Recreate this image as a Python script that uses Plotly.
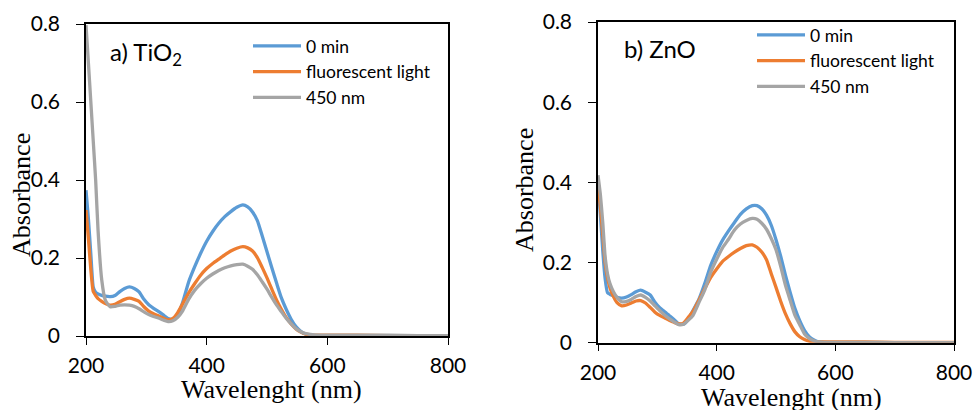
import plotly.graph_objects as go

# ---------------- data ----------------
wavelength = [200, 204, 208, 212, 216, 220, 226, 232, 240, 248, 256, 264, 272, 280, 288,
              296, 304, 312, 320, 328, 336, 344, 352, 360, 370, 380, 390, 400, 410, 420,
              430, 440, 450, 460, 468, 476, 484, 492, 500, 508, 516, 524, 532, 540, 548,
              556, 564, 572, 580, 600, 650, 700, 750, 800]

# a) TiO2
tio2_0min = [0.374, 0.300, 0.210, 0.125, 0.112, 0.108, 0.104, 0.102, 0.101, 0.104, 0.114, 0.122, 0.126, 0.122, 0.113,
             0.094, 0.080, 0.071, 0.063, 0.054, 0.045, 0.043, 0.054, 0.085, 0.138, 0.177, 0.212, 0.243, 0.268, 0.289,
             0.306, 0.319, 0.330, 0.336, 0.331, 0.318, 0.296, 0.257, 0.216, 0.175, 0.135, 0.097, 0.068, 0.043, 0.024,
             0.012, 0.005, 0.002, 0.000, -0.002, 0.000, 0.000, 0.000, 0.000]
tio2_fluor = [0.323, 0.250, 0.170, 0.114, 0.104, 0.096, 0.089, 0.083, 0.079, 0.081, 0.088, 0.094, 0.097, 0.094, 0.089,
              0.075, 0.064, 0.057, 0.052, 0.046, 0.041, 0.045, 0.060, 0.082, 0.110, 0.134, 0.156, 0.173, 0.186, 0.197,
              0.208, 0.218, 0.225, 0.229, 0.226, 0.218, 0.201, 0.176, 0.149, 0.120, 0.092, 0.068, 0.047, 0.031, 0.018,
              0.010, 0.005, 0.003, 0.002, 0.002, 0.002, 0.001, 0.001, 0.000]
tio2_450 = [0.797, 0.700, 0.600, 0.500, 0.400, 0.270, 0.145, 0.092, 0.075, 0.076, 0.079, 0.080, 0.079, 0.076, 0.070,
            0.062, 0.055, 0.050, 0.046, 0.041, 0.037, 0.039, 0.048, 0.064, 0.094, 0.117, 0.134, 0.148, 0.159, 0.168,
            0.175, 0.180, 0.183, 0.184, 0.179, 0.171, 0.157, 0.139, 0.120, 0.099, 0.079, 0.062, 0.045, 0.031, 0.019,
            0.011, 0.006, 0.004, 0.003, 0.002, 0.002, 0.002, 0.001, 0.001]

# b) ZnO
zno_0min = [0.400, 0.320, 0.230, 0.160, 0.125, 0.121, 0.117, 0.113, 0.111, 0.114, 0.120, 0.127, 0.131, 0.126, 0.119,
            0.101, 0.087, 0.078, 0.068, 0.058, 0.047, 0.046, 0.058, 0.080, 0.108, 0.148, 0.193, 0.227, 0.256, 0.279,
            0.300, 0.320, 0.334, 0.342, 0.342, 0.334, 0.318, 0.293, 0.257, 0.215, 0.168, 0.125, 0.085, 0.055, 0.031,
            0.015, 0.007, 0.002, 0.001, 0.000, 0.000, 0.000, 0.000, 0.000]
zno_fluor = [0.398, 0.340, 0.270, 0.200, 0.162, 0.138, 0.115, 0.100, 0.092, 0.094, 0.099, 0.104, 0.105, 0.099, 0.088,
             0.076, 0.068, 0.062, 0.056, 0.051, 0.047, 0.049, 0.063, 0.078, 0.106, 0.135, 0.163, 0.184, 0.203, 0.215,
             0.226, 0.235, 0.242, 0.244, 0.238, 0.226, 0.207, 0.172, 0.138, 0.103, 0.072, 0.047, 0.027, 0.015, 0.008,
             0.004, 0.003, 0.002, 0.002, 0.002, 0.002, 0.001, 0.001, 0.001]
zno_450 = [0.418, 0.370, 0.300, 0.215, 0.172, 0.148, 0.127, 0.113, 0.102, 0.103, 0.108, 0.115, 0.119, 0.113, 0.104,
           0.092, 0.080, 0.069, 0.060, 0.052, 0.045, 0.046, 0.056, 0.068, 0.100, 0.132, 0.176, 0.208, 0.237, 0.258,
           0.281, 0.296, 0.305, 0.310, 0.308, 0.298, 0.283, 0.260, 0.232, 0.190, 0.143, 0.105, 0.068, 0.045, 0.022,
           0.011, 0.005, 0.002, 0.001, 0.001, 0.001, 0.000, 0.000, 0.000]

series_names = ["0 min", "fluorescent light", "450 nm"]
series_colors = ["#5B9BD5", "#ED7D31", "#A5A5A5"]
panel_labels = ["a) TiO<sub>2</sub>", "b) ZnO"]
x_title = "Wavelenght (nm)"
y_title = "Absorbance"
x_ticks = [200, 400, 600, 800]
y_ticks = [0, 0.2, 0.4, 0.6, 0.8]

# ---------------- figure ----------------
W, H = 973, 410
fig = go.Figure()

panels = [
    dict(data=[tio2_0min, tio2_fluor, tio2_450], xa="x", ya="y", legend="legend"),
    dict(data=[zno_0min, zno_fluor, zno_450], xa="x2", ya="y2", legend="legend2"),
]
for p in panels:
    for i, (name, col, ys) in enumerate(zip(series_names, series_colors, p["data"])):
        fig.add_trace(go.Scatter(
            x=wavelength, y=ys, mode="lines", name=name,
            line=dict(color=col, width=3.3, shape="spline", smoothing=0.5),
            xaxis=p["xa"], yaxis=p["ya"], legend=p["legend"],
            legendgroup=p["legend"] + str(i), showlegend=True,
        ))

tick_font = dict(family="Lato, Carlito, sans-serif", size=21, color="black")
title_font = dict(family="Liberation Serif, Times New Roman, serif", size=26, color="black")


def xaxis(domain, anchor):
    return dict(domain=domain, anchor=anchor, range=[200, 800], tickvals=x_ticks,
                showline=True, linecolor="black", linewidth=1.5, mirror=True,
                ticks="outside", ticklen=7, tickwidth=1.3, tickcolor="black",
                showgrid=False, zeroline=False, tickfont=tick_font,
                ticklabelstandoff=3, automargin=False)


def yaxis(domain, anchor):
    return dict(domain=domain, anchor=anchor, range=[0, 0.8], tickvals=y_ticks,
                showline=True, linecolor="black", linewidth=1.5, mirror=True,
                ticks="outside", ticklen=8, tickwidth=1.3, tickcolor="black",
                showgrid=False, zeroline=False, tickfont=tick_font,
                ticklabelstandoff=12, automargin=False)


legend_common = dict(xanchor="left", yanchor="top", bgcolor="rgba(0,0,0,0)",
                     font=dict(family="Lato, Carlito, sans-serif", size=17.5, color="black"),
                     itemwidth=48, tracegroupgap=3, traceorder="normal")


def ann(text, x, y, font, angle=0):
    return dict(text=text, x=x / W, y=1 - y / H, xref="paper", yref="paper",
                xanchor="center", yanchor="middle", showarrow=False,
                textangle=angle, font=font)


label_font = dict(family="Lato, Carlito, sans-serif", size=24, color="black")
annotations = [
    dict(text=panel_labels[0], x=108 / W, y=1 - 53 / H, xref="paper", yref="paper",
         xanchor="left", yanchor="middle", showarrow=False, font=label_font),
    dict(text=panel_labels[1], x=622 / W, y=1 - 48 / H, xref="paper", yref="paper",
         xanchor="left", yanchor="middle", showarrow=False, font=label_font),
    ann(x_title, 271, 389, title_font),
    ann(x_title, 791, 397, title_font),
    ann(y_title, 21, 195, title_font, -90),
    ann(y_title, 524, 190, title_font, -90),
]

fig.update_layout(
    width=W, height=H,
    margin=dict(l=0, r=0, t=0, b=0, autoexpand=False),
    paper_bgcolor="white", plot_bgcolor="white",
    showlegend=True,
    xaxis=xaxis([86 / W, 448 / W], "y"),
    yaxis=yaxis([(H - 336) / H, (H - 24) / H], "x"),
    xaxis2=xaxis([598 / W, 954 / W], "y2"),
    yaxis2=yaxis([(H - 342.7) / H, (H - 22) / H], "x2"),
    legend=dict(x=248 / W, y=1 - 28 / H, **legend_common),
    legend2=dict(x=752 / W, y=1 - 17 / H, **legend_common),
    annotations=annotations,
)

fig.write_html("out.html")
